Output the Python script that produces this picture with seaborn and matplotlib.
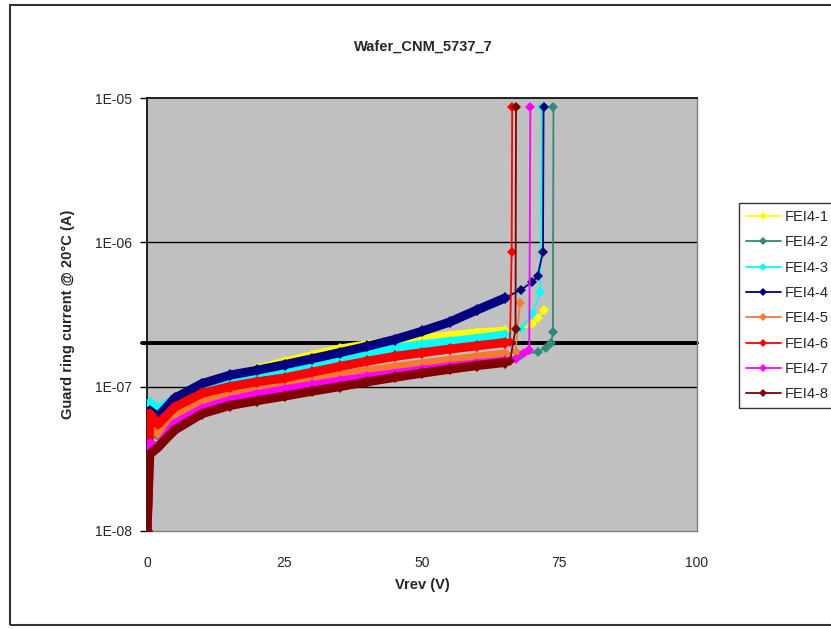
import pandas as pd
import seaborn as sns
import matplotlib.pyplot as plt
import matplotlib.patches as mpatches
from matplotlib.ticker import FixedLocator, NullLocator

# common reverse-voltage points (V)
vrev = [0, 0.5, 2, 5, 10, 15, 20, 25, 30, 35, 40, 45, 50, 55, 60, 65]

# guard ring current (A) at the common points
fei4_1 = [1e-8, 5.5e-8, 5.0e-8, 7.5e-8, 9.8e-8, 1.15e-7, 1.32e-7, 1.48e-7, 1.64e-7, 1.82e-7, 1.95e-7, 2.05e-7, 2.15e-7, 2.25e-7, 2.35e-7, 2.42e-7]
fei4_2 = [1e-8, 5.0e-8, 4.6e-8, 6.2e-8, 7.6e-8, 8.6e-8, 9.4e-8, 1.0e-7, 1.07e-7, 1.14e-7, 1.21e-7, 1.28e-7, 1.35e-7, 1.42e-7, 1.49e-7, 1.56e-7]
fei4_3 = [1e-8, 7.7e-8, 7.0e-8, 8.2e-8, 1.0e-7, 1.12e-7, 1.22e-7, 1.34e-7, 1.46e-7, 1.6e-7, 1.72e-7, 1.85e-7, 1.95e-7, 2.05e-7, 2.15e-7, 2.28e-7]
fei4_4 = [1e-8, 6.8e-8, 6.2e-8, 8.3e-8, 1.05e-7, 1.2e-7, 1.3e-7, 1.42e-7, 1.56e-7, 1.72e-7, 1.9e-7, 2.12e-7, 2.42e-7, 2.8e-7, 3.4e-7, 4.1e-7]
fei4_5 = [1e-8, 5.5e-8, 4.8e-8, 6.5e-8, 8.0e-8, 9.0e-8, 9.8e-8, 1.05e-7, 1.13e-7, 1.2e-7, 1.28e-7, 1.36e-7, 1.44e-7, 1.52e-7, 1.6e-7, 1.68e-7]
fei4_6 = [1e-8, 6.5e-8, 5.5e-8, 7.2e-8, 9.0e-8, 1.0e-7, 1.08e-7, 1.15e-7, 1.26e-7, 1.38e-7, 1.5e-7, 1.62e-7, 1.72e-7, 1.82e-7, 1.92e-7, 2.02e-7]
fei4_7 = [1e-8, 4.0e-8, 3.8e-8, 5.5e-8, 7.0e-8, 8.0e-8, 8.8e-8, 9.5e-8, 1.02e-7, 1.09e-7, 1.16e-7, 1.23e-7, 1.3e-7, 1.37e-7, 1.44e-7, 1.5e-7]
fei4_8 = [1e-8, 3.4e-8, 3.8e-8, 5.0e-8, 6.5e-8, 7.4e-8, 8.0e-8, 8.6e-8, 9.3e-8, 1.0e-7, 1.08e-7, 1.16e-7, 1.24e-7, 1.32e-7, 1.4e-7, 1.47e-7]

# breakdown tails (V, A) after 65 V
tail_1 = ([68, 70, 71, 72.2], [2.5e-7, 2.7e-7, 3.0e-7, 3.4e-7])
tail_2 = ([68, 71, 72.5, 73.5, 73.8, 73.9], [1.65e-7, 1.75e-7, 1.85e-7, 2.0e-7, 2.4e-7, 8.6e-6])
tail_3 = ([68, 70, 71.5, 71.8], [2.5e-7, 3.2e-7, 4.5e-7, 8.6e-6])
tail_4 = ([68, 70, 71, 72, 72.1], [4.7e-7, 5.3e-7, 5.8e-7, 8.6e-7, 8.6e-6])
tail_5 = ([67, 67.8], [1.75e-7, 3.8e-7])
tail_6 = ([66, 66.3, 66.4], [2.05e-7, 8.6e-7, 8.6e-6])
tail_7 = ([67, 68.5, 69.5, 69.7], [1.55e-7, 1.7e-7, 1.8e-7, 8.6e-6])
tail_8 = ([66, 67, 67.1], [1.5e-7, 2.5e-7, 8.6e-6])

labels = ["FEI4-1", "FEI4-2", "FEI4-3", "FEI4-4", "FEI4-5", "FEI4-6", "FEI4-7", "FEI4-8"]
colors = ["#FFFF00", "#2E8B7A", "#00FFFF", "#000080", "#F47A30", "#FF0000", "#FF00FF", "#800000"]

bodies = [fei4_1, fei4_2, fei4_3, fei4_4, fei4_5, fei4_6, fei4_7, fei4_8]
tails = [tail_1, tail_2, tail_3, tail_4, tail_5, tail_6, tail_7, tail_8]

rows = []
for lab, body, (tv, ti) in zip(labels, bodies, tails):
    for v, i in zip(vrev, body):
        rows.append({"series": lab, "part": "body", "V": v, "I": i})
    # tail starts from last body point so the line joins
    rows.append({"series": lab, "part": "tail", "V": vrev[-1], "I": body[-1]})
    for v, i in zip(tv, ti):
        rows.append({"series": lab, "part": "tail", "V": v, "I": i})
df = pd.DataFrame(rows)

sns.set_style("white")
plt.rcParams['font.family'] = ['Liberation Sans', 'DejaVu Sans']

fig = plt.figure(figsize=(8.31, 6.29), dpi=100)
ax = fig.add_axes([147 / 831, 1 - 531 / 629, 550 / 831, 433 / 629])
ax.set_facecolor("#C0C0C0")

# outer chart border
fig.patches.append(mpatches.Rectangle((10 / 831, 4 / 629), 0.99, 620 / 629, transform=fig.transFigure,
                                      fill=False, edgecolor="#333333", lw=1.5))

# gridlines
for yv in [1e-6, 1e-7]:
    ax.axhline(yv, color="black", lw=1, zorder=1)
ax.axhline(2e-7, color="black", lw=2.8, zorder=1, xmin=-0.01, clip_on=False)

for lab, col in zip(labels, colors):
    sub = df[df.series == lab]
    b = sub[sub.part == "body"]
    t = sub[sub.part == "tail"]
    sns.lineplot(data=b, x="V", y="I", color=col, lw=6.5, marker="D", markersize=6,
                 markeredgewidth=0, sort=False, estimator=None, ax=ax, zorder=3)
    sns.lineplot(data=t, x="V", y="I", color=col, lw=1.3, marker="D", markersize=5,
                 markeredgewidth=0, sort=False, estimator=None, ax=ax, zorder=3)

ax.set_yscale("log")
ax.set_ylim(1e-8, 1e-5)
ax.set_xlim(0, 100)
ax.yaxis.set_major_locator(FixedLocator([1e-8, 1e-7, 1e-6, 1e-5]))
ax.yaxis.set_minor_locator(NullLocator())
ax.set_yticklabels(["1E-08", "1E-07", "1E-06", "1E-05"], fontsize=10)
ax.set_xticks([0, 25, 50, 75, 100])
ax.set_xticklabels(["0", "25", "50", "75", "100"], fontsize=10)
ax.tick_params(axis="y", direction="out", length=5, width=1, color="black", pad=6, left=True)
ax.tick_params(axis="x", length=0, pad=18)

for side in ["top", "left"]:
    ax.spines[side].set_color("black")
    ax.spines[side].set_linewidth(1.2)
for side in ["right", "bottom"]:
    ax.spines[side].set_color("#808080")
    ax.spines[side].set_linewidth(1)

ax.set_xlabel("Vrev (V)", fontsize=10.5, fontweight="bold", labelpad=6)
ax.set_ylabel("Guard ring current @ 20°C (A)", fontsize=10.5, fontweight="bold", labelpad=14)
fig.text(423 / 831, 1 - 47 / 629, "Wafer_CNM_5737_7", ha="center", va="center",
         fontsize=10.5, fontweight="bold")

handles = [plt.Line2D([], [], color=c, lw=1.3, marker="D", markersize=4, markeredgewidth=0) for c in colors]
leg = fig.legend(handles, labels, loc="upper left", bbox_to_anchor=(732 / 831, 1 - 196 / 629),
                 frameon=True, fancybox=False, edgecolor="black", fontsize=10.5,
                 handlelength=2.4, handletextpad=0.3, labelspacing=0.78, borderpad=0.45)
leg.get_frame().set_linewidth(1)

fig.savefig("out.png", dpi=100)
